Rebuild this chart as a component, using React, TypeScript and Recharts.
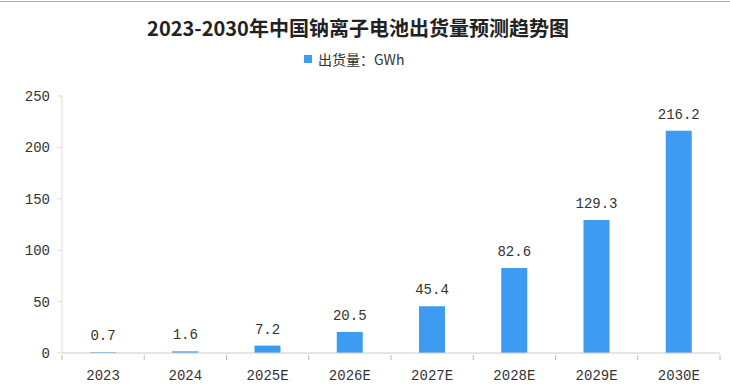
import { Bar, BarChart, LabelList, XAxis, YAxis } from "recharts";

const years = ["2023", "2024", "2025E", "2026E", "2027E", "2028E", "2029E", "2030E"];
const shipments = [0.7, 1.6, 7.2, 20.5, 45.4, 82.6, 129.3, 216.2];
const yTicks = [0, 50, 100, 150, 200, 250];

const data = years.map((year, i) => ({ year, shipment: shipments[i] }));

const BLUE = "#3d9cf2";
const TEXT = "#333";
const NUM_FONT = "'Liberation Mono', 'DejaVu Sans Mono', monospace";
const CJK_FONT = "'Noto Sans CJK SC', sans-serif";

// ticks sit on the category boundaries, labels in the middle
const XTick = (props: any) => {
  const { x, y, payload, index } = props;
  const half = payload.offset ?? 41;
  const last = index === years.length - 1;
  return (
    <g>
      <line x1={x - half} y1={y} x2={x - half} y2={y + 5} stroke="#bbb" />
      {last && <line x1={x + half} y1={y} x2={x + half} y2={y + 5} stroke="#bbb" />}
      <text x={x} y={y + 25} textAnchor="middle" fill={TEXT} fontSize={14} fontFamily={NUM_FONT}>
        {payload.value}
      </text>
    </g>
  );
};

export default function App() {
  return (
    <div style={{ position: "absolute", left: 0, top: 0, width: 730, height: 390, background: "#fff" }}>
      <div style={{ position: "absolute", left: 0, top: 1, width: 730, borderTop: "1px solid #aaa" }} />
      <div
        style={{
          position: "absolute",
          left: 0,
          top: 13,
          width: 716,
          textAlign: "center",
          fontFamily: CJK_FONT,
          fontWeight: "bold",
          fontSize: 20,
          lineHeight: "30px",
          color: "#222",
        }}
      >
        2023-2030年中国钠离子电池出货量预测趋势图
      </div>
      <div
        style={{
          position: "absolute",
          left: 304,
          top: 49,
          height: 20,
          display: "flex",
          alignItems: "center",
          fontFamily: CJK_FONT,
          fontSize: 14,
          color: TEXT,
        }}
      >
        <span style={{ width: 8, height: 8, background: BLUE, display: "inline-block", marginRight: 6 }} />
        出货量：GWh
      </div>
      <BarChart
        width={730}
        height={390}
        data={data}
        margin={{ top: 96, right: 10, left: 0, bottom: 7 }}
        style={{ position: "absolute", left: 0, top: 0 }}
      >
        <XAxis
          dataKey="year"
          height={30}
          stroke="#ccc"
          tickLine={false}
          tickSize={0}
          tick={<XTick />}
          interval={0}
        />
        <YAxis
          width={62}
          domain={[0, 250]}
          ticks={yTicks}
          stroke="#ddd"
          tickSize={5}
          tickMargin={7}
          tick={{ fill: TEXT, fontSize: 14, fontFamily: NUM_FONT }}
        />
        <Bar dataKey="shipment" fill={BLUE} barSize={26} isAnimationActive={false}>
          <LabelList
            dataKey="shipment"
            position="top"
            offset={12}
            fill={TEXT}
            fontSize={14}
            fontFamily={NUM_FONT}
          />
        </Bar>
      </BarChart>
    </div>
  );
}
